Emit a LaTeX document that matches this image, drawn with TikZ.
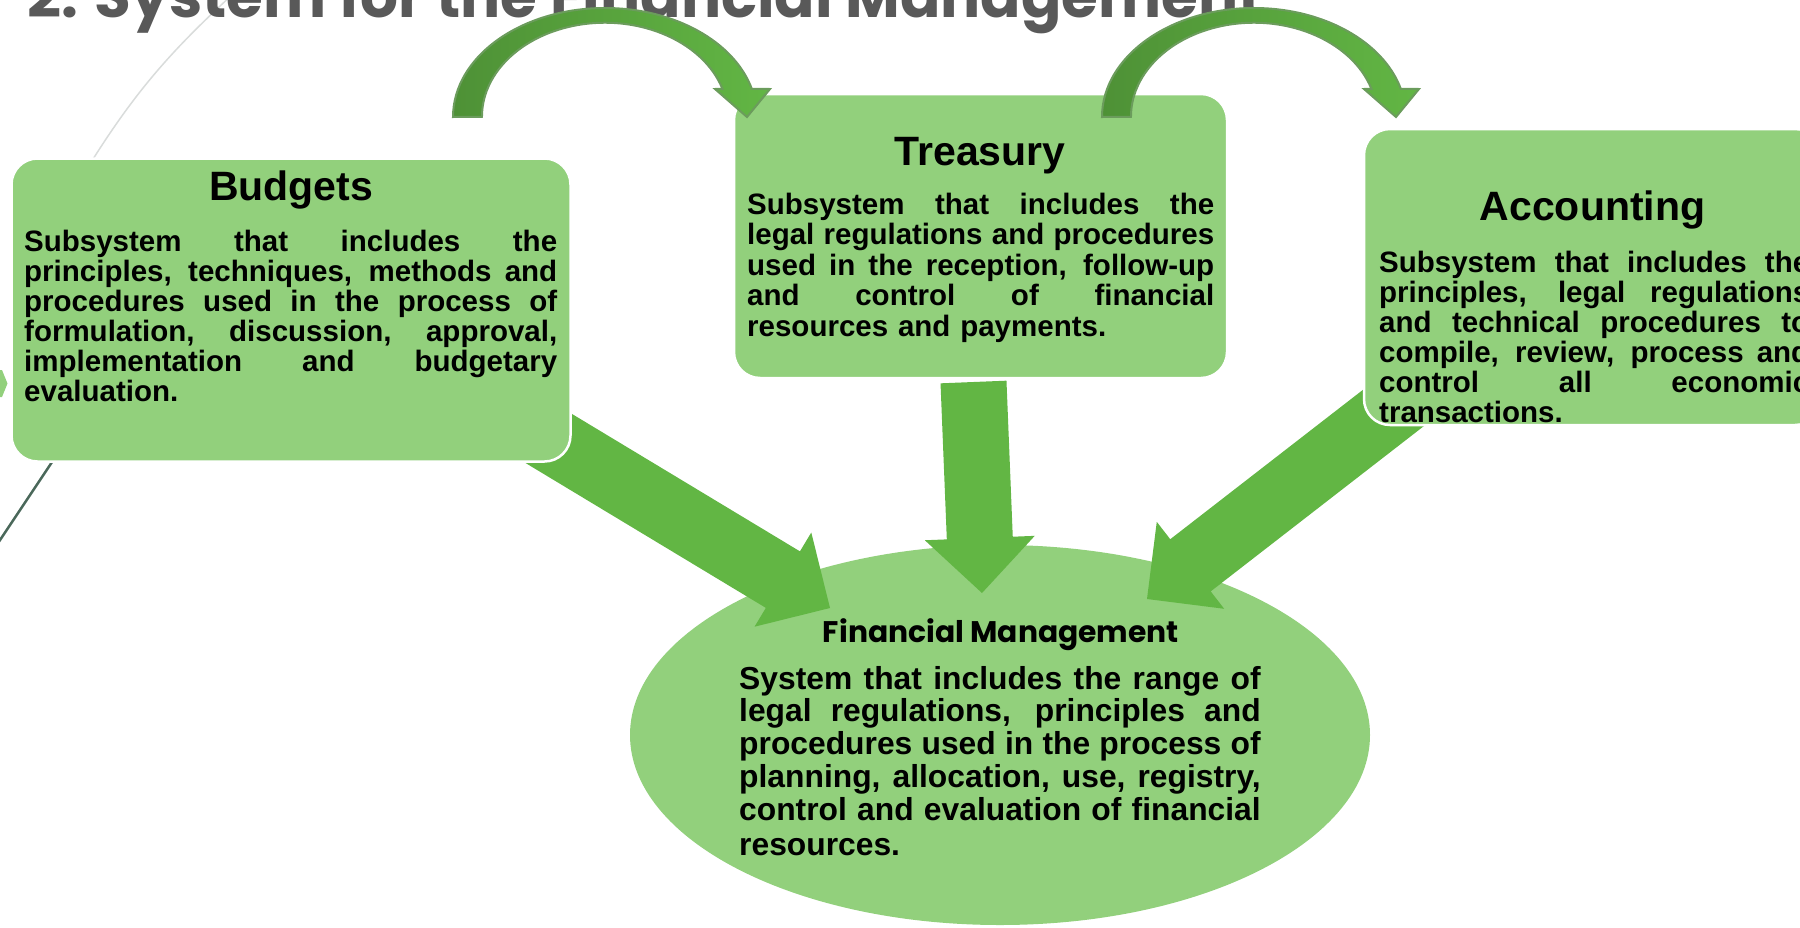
\documentclass[tikz,border=0pt]{standalone}
\usepackage{graphicx}
\usepackage{fontspec}
\setmainfont{Liberation Sans}
\newfontfamily\geofont{Poppins}
\usetikzlibrary{calc,shapes.geometric}

\definecolor{boxgreen}{RGB}{146,208,124}
\definecolor{arrowgreen}{RGB}{98,182,68}
\definecolor{arcdark}{RGB}{78,145,54}
\definecolor{arclight}{RGB}{98,182,68}
\definecolor{arcline}{RGB}{107,156,92}
\definecolor{titlegray}{RGB}{89,89,89}
\definecolor{decogray}{RGB}{217,220,219}
\definecolor{decodark}{RGB}{74,104,90}

% lines may sit closer than their glyphs
\lineskiplimit=-20pt

% one justified line of a text block: the spaces take up all free room
\newcommand\jl[1]{{\spaceskip=0pt plus 1fill\relax #1}}

% block arrow from tail #1 to tip #2
\newcommand\blockarrow[2]{%
    \path ($(#2)!55pt!(#1)$) coordinate (neck);
    \fill [arrowgreen]
        ($(#1)!33pt!90:(#2)$) -- ($(neck)!33pt!90:(#2)$) -- ($(neck)!55pt!90:(#2)$)
        -- (#2) -- ($(neck)!55pt!-90:(#2)$) -- ($(neck)!33pt!-90:(#2)$)
        -- ($(#1)!33pt!-90:(#2)$) -- cycle;}

\begin{document}
\begin{tikzpicture}
        [
            x = 1pt, y = -1pt,
            box/.style = {
                draw=white, line width=2.5pt, fill=boxgreen,
                rounded corners=26pt, inner sep=0pt},
            head/.style = {font=\fontsize{41}{41}\selectfont\bfseries,
                inner sep=0pt, anchor=base},
            body/.style = {font=\fontsize{29.5}{30}\selectfont\bfseries,
                inner sep=0pt, align=left, anchor=base west},
            curved/.style = {draw=arcline, line width=2pt,
                left color=arcdark, right color=arclight}
        ]
        \useasboundingbox (0,0) rectangle (1800,927);
        % slide background
        \draw [decogray, line width=1.5pt] (233,-6) to [bend right=8] (80,180);
        \draw [decodark, line width=2.5pt] (52,462) -- (-8,552);
        \fill [boxgreen] (-5,370) -- (2,370) -- (7.5,383.5) -- (2,397) -- (-5,397) -- cycle;
        \node [anchor=base west, inner sep=0pt, text=titlegray] (slide title) at (27,17)
            {\resizebox{1235pt}{!}{\geofont\bfseries 2. System for the Financial Management}};

        \node [ellipse, fill=boxgreen, minimum width=740pt, minimum height=380pt,
            inner sep=0pt] (fm) at (1000,735) {};

        \coordinate (bud tail) at (470,391);
        \coordinate (fm in1) at (830,608);
        \coordinate (tre tail) at (973.5,382);
        \coordinate (fm in2) at (982,593);
        \coordinate (acc tail) at (1463,354);
        \coordinate (fm in3) at (1147,599);
        \blockarrow{bud tail}{fm in1}
        \blockarrow{tre tail}{fm in2}
        \blockarrow{acc tail}{fm in3}

        \node [box, minimum width=559pt, minimum height=303pt] (bud) at (291,310) {};
        \node [box, minimum width=493pt, minimum height=284pt] (tre) at (980.5,236) {};
        \node [box, minimum width=457pt, minimum height=296pt] (acc) at (1592.5,277) {};

        \foreach \sx in {0,649}
            \draw [curved, shift={(\sx,0)}] (453,117)
                arc [start angle=180, end angle=15, x radius=152pt, y radius=109pt]
                -- (770,89) -- (747,117) -- (715,89) -- (722.4,88.8)
                arc [start angle=17.3, end angle=180, x radius=123pt, y radius=94pt]
                -- cycle;

        \node [head] (bud title) at (291,200) {Budgets};
        \node [body, text width=533pt] (bud text) at (24,251)
            {\jl{Subsystem that includes the}\\
             \jl{principles, techniques, methods and}\\
             \jl{procedures used in the process of}\\
             \jl{formulation, discussion, approval,}\\
             \jl{implementation and budgetary}\\
             evaluation.};

        \node [head] (tre title) at (980,165) {Treasury};
        \node [body, text width=467pt,
            font=\fontsize{29.5}{30.5}\selectfont\bfseries] (tre text) at (747,214)
            {\jl{Subsystem that includes the}\\
             \jl{legal regulations and procedures}\\
             \jl{used in the reception, follow-up}\\
             \jl{and control of financial}\\
             resources and payments.};

        \node [head] (acc title) at (1592.5,220) {Accounting};
        \node [body, text width=430pt] (acc text) at (1379,272.5)
            {\jl{Subsystem that includes the}\\
             \jl{principles, legal regulations}\\
             \jl{and technical procedures to}\\
             \jl{compile, review, process and}\\
             \jl{control all economic}\\
             transactions.};

        \node [anchor=base, inner sep=0pt] (fm title) at (1001,642)
            {\resizebox{356pt}{!}{\geofont\bfseries Financial Management}};
        \node [body, text width=521.5pt,
            font=\fontsize{31.8}{32.8}\selectfont\bfseries] (fm text) at (739,689)
            {\jl{System that includes the range of}\\
             \jl{legal regulations, principles and}\\
             \jl{procedures used in the process of}\\
             \jl{planning, allocation, use, registry,}\\
             \jl{control and evaluation of financial}\\[2.2pt]
             resources.};
    \end{tikzpicture}
\end{document}
